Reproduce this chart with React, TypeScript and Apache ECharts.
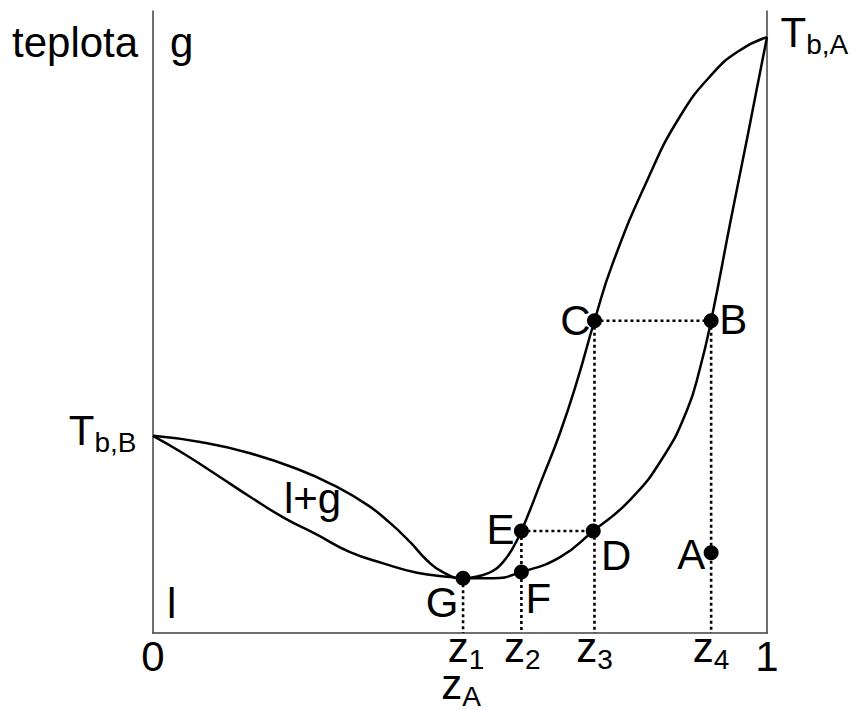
import React, { useEffect, useRef } from "react";
import * as echarts from "echarts";

// Composition axis (mole fraction of A) runs 0..1, temperature axis 0..100 (arbitrary units).
const dewCurve: [number, number][] = [
  [0, 31.7], [0.077, 30.7], [0.158, 28.9], [0.239, 26.2], [0.293, 23.8],
  [0.349, 20.6], [0.386, 17.7], [0.419, 14.6], [0.446, 11.7], [0.472, 9.8],
  [0.505, 8.8], [0.533, 9.2], [0.554, 10.0], [0.57, 11.4], [0.585, 13.5],
  [0.6, 16.4], [0.635, 25.1], [0.663, 32.2], [0.691, 40.6], [0.719, 50.2],
  [0.749, 59.5], [0.805, 72.8], [0.858, 83.0], [0.912, 90.0], [0.956, 93.7],
  [1, 95.8],
];

const bubbleCurve: [number, number][] = [
  [0, 31.7], [0.049, 28.9], [0.104, 25.4], [0.158, 21.9], [0.212, 18.6],
  [0.267, 15.8], [0.321, 13.0], [0.375, 11.2], [0.43, 9.7], [0.484, 9.0],
  [0.505, 8.8], [0.554, 8.8], [0.6, 9.8], [0.663, 12.2], [0.717, 16.4],
  [0.777, 21.4], [0.831, 28.3], [0.87, 35.9], [0.891, 42.6], [0.909, 50.2],
  [0.941, 66.4], [0.968, 79.7], [0.984, 87.8], [1, 95.8],
];

// Named state points and where their letters sit relative to the dot
const pointNames = ["G", "F", "E", "D", "C", "B", "A"];
const pointValues: [number, number][] = [
  [0.505, 8.8], [0.6, 9.8], [0.6, 16.4], [0.717, 16.4],
  [0.719, 50.2], [0.909, 50.2], [0.909, 12.9],
];
const pointLabelOffsets: [number, number][] = [
  [-21, 24], [17, 26], [-21, -1], [23, 25], [-19, 0], [22, -1], [-20, 2],
];

// Compositions marked on the x axis (z1..z4), taken from G, E, C, B
const zSubscripts = ["1", "2", "3", "4"];
const zSources = ["G", "E", "C", "B"];
const zOffsetsX = [3, 1, 0, 0];
// overall composition z_A, written under z1
const zASource = "G";

// Tie lines between points
const tieLines: [string, string][] = [["C", "B"], ["E", "D"]];

const pureB: [number, number] = [0, 31.7];
const pureA: [number, number] = [1, 95.8];

const FONT = '"Liberation Sans", Arial, Helvetica, sans-serif';

export default function App() {
  const ref = useRef<HTMLDivElement>(null);

  useEffect(() => {
    if (!ref.current) return;
    const chart = echarts.init(ref.current, undefined, { renderer: "svg" });

    const pt = (name: string) => pointValues[pointNames.indexOf(name)];

    // main glyph + lowered subscript
    const rich = {
      m: { fontSize: 42, lineHeight: 42, verticalAlign: "top", fontFamily: FONT, color: "#000" },
      s: {
        fontSize: 28,
        lineHeight: 28,
        verticalAlign: "top",
        padding: [19, 0, 0, 0],
        fontFamily: FONT,
        color: "#000",
      },
    };

    const dotted = {
      color: "#000",
      width: 2.6,
      type: [3, 3] as number[],
      cap: "butt",
    };

    const guideSeries: any[] = [];
    zSources.forEach((n) => {
      const p = pt(n);
      guideSeries.push({
        type: "line",
        data: [[p[0], p[1]], [p[0], 0]],
        symbol: "none",
        lineStyle: dotted,
        silent: true,
        z: 1,
      });
    });
    tieLines.forEach(([a, b]) => {
      const p = pt(a);
      const q = pt(b);
      guideSeries.push({
        type: "line",
        data: [[p[0], p[1]], [q[0], q[1]]],
        symbol: "none",
        lineStyle: dotted,
        silent: true,
        z: 1,
      });
    });

    const zLabelData: any[] = zSources.map((n, i) => ({
      value: [pt(n)[0], 0],
      label: {
        formatter: `{m|z}{s|${zSubscripts[i]}}`,
        offset: [zOffsetsX[i], 14.5],
      },
    }));
    zLabelData.push({
      value: [pt(zASource)[0], 0],
      label: { formatter: "{m|z}{s|A}", offset: [-2, 51] },
    });

    const hidden = { color: "rgba(0,0,0,0)", opacity: 1 };

    const option: any = {
      animation: false,
      textStyle: { fontFamily: FONT },
      grid: { left: 153, right: 84, top: 11, bottom: 77 },
      xAxis: {
        type: "value",
        min: 0,
        max: 1,
        interval: 1,
        axisLine: { show: true, lineStyle: { color: "#404040", width: 1.5 } },
        axisTick: { show: false },
        splitLine: { show: false },
        axisLabel: { fontSize: 42, color: "#000", margin: 2, fontFamily: FONT },
      },
      yAxis: [
        {
          type: "value",
          min: 0,
          max: 100,
          axisLine: { show: true, lineStyle: { color: "#404040", width: 1.5 } },
          axisTick: { show: false },
          axisLabel: { show: false },
          splitLine: { show: false },
        },
        {
          type: "value",
          position: "right",
          min: 0,
          max: 100,
          axisLine: { show: true, onZero: false, lineStyle: { color: "#404040", width: 1.5 } },
          axisTick: { show: false },
          axisLabel: { show: false },
          splitLine: { show: false },
        },
      ],
      series: [
        ...guideSeries,
        {
          type: "line",
          name: "dew",
          data: dewCurve,
          smooth: 0.5,
          symbol: "none",
          lineStyle: { color: "#000", width: 2.5 },
          z: 2,
        },
        {
          type: "line",
          name: "bubble",
          data: bubbleCurve,
          smooth: 0.5,
          symbol: "none",
          lineStyle: { color: "#000", width: 2.5 },
          z: 2,
        },
        {
          type: "scatter",
          symbolSize: 15,
          itemStyle: { color: "#000", opacity: 1 },
          z: 3,
          data: pointValues.map((v, i) => ({
            value: v,
            label: {
              show: true,
              position: "inside",
              formatter: pointNames[i],
              offset: pointLabelOffsets[i],
              fontSize: 42,
              color: "#000",
              fontFamily: FONT,
            },
          })),
        },
        {
          type: "scatter",
          symbolSize: 1,
          itemStyle: hidden,
          z: 3,
          label: { show: true, position: "inside", rich, align: "center" },
          data: zLabelData,
        },
        {
          type: "scatter",
          symbolSize: 1,
          itemStyle: hidden,
          z: 3,
          data: [
            {
              value: pureB,
              label: { show: true, position: "left", distance: 16, offset: [0, -5.5], formatter: "{m|T}{s|b,B}", rich },
            },
            {
              value: pureA,
              label: { show: true, position: "right", distance: 13, offset: [0, -4.5], formatter: "{m|T}{s|b,A}", rich },
            },
          ],
        },
      ],
      graphic: [
        { type: "text", x: 12, y: 42, style: { text: "teplota", fontSize: 42, fontFamily: FONT, fill: "#000", verticalAlign: "middle" } },
        { type: "text", x: 170, y: 42, style: { text: "g", fontSize: 42, fontFamily: FONT, fill: "#000", verticalAlign: "middle" } },
        { type: "text", x: 167, y: 603, style: { text: "l", fontSize: 42, fontFamily: FONT, fill: "#000", verticalAlign: "middle" } },
        { type: "text", x: 284, y: 498, style: { text: "l+g", fontSize: 42, fontFamily: FONT, fill: "#000", verticalAlign: "middle" } },
      ],
    };

    chart.setOption(option);
    return () => chart.dispose();
  }, []);

  return (
    <div
      ref={ref}
      style={{ position: "fixed", left: 0, top: 0, width: 851, height: 710, background: "#fff" }}
    />
  );
}
